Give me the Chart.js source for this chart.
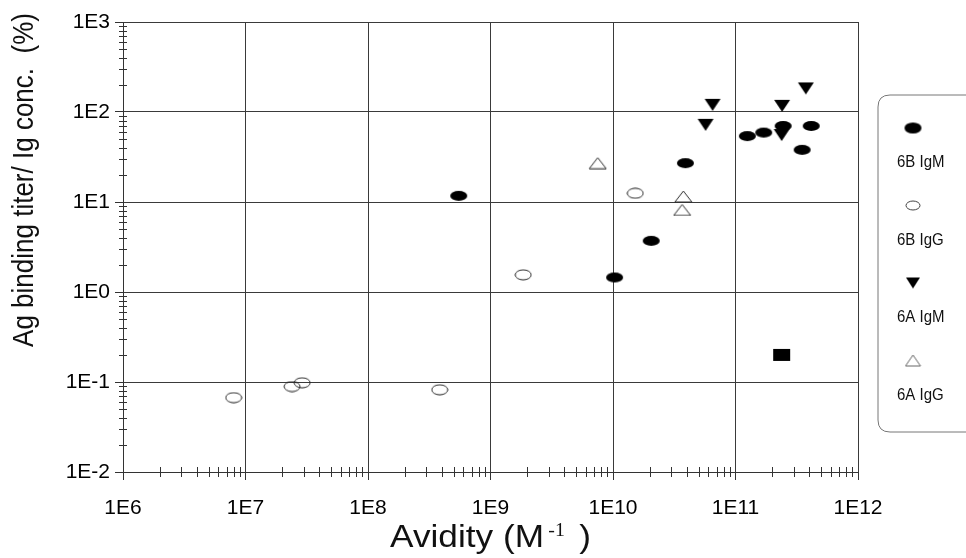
<!DOCTYPE HTML><html>
<head>
  <meta name="viewport" content="width=device-width, initial-scale=1">
  <script src="https://cdn.jsdelivr.net/npm/chart.js"></script>
  <style>
    html, body { margin: 0; padding: 0; background: #fff; }
    #wrap { width: 966px; height: 558px; }
  </style>
</head>
<body>
  <div id="wrap"><canvas id="avidityChart" width="966" height="558"></canvas></div>
<script>
  // values (x = avidity M^-1, y = titer / Ig conc. %)
  const igm6bX = [5.5e8, 1.03e10, 2.05e10, 3.9e10, 1.25e11, 1.7e11, 2.45e11, 4.15e11, 3.5e11];
  const igm6bY = [11.7, 1.45, 3.7, 27, 54, 59, 70, 70, 38];
  const igg6bX = [8.0e6, 2.4e7, 2.9e7, 3.85e8, 1.85e9, 1.52e10];
  const igg6bY = [0.067, 0.089, 0.098, 0.082, 1.55, 12.5];
  const igm6aX = [6.5e10, 5.7e10, 2.4e11, 3.75e11, 2.38e11];
  const igm6aY = [120, 72, 117, 183, 55.5];
  const igg6aX = [7.5e9, 3.75e10, 3.67e10];
  const igg6aY = [27, 11.5, 8.15];
  const otherX = [2.38e11];
  const otherY = [0.2];
  const seriesNames = ['6B IgM', '6B IgG', '6A IgM', '6A IgG'];
  const xRange = [1e6, 1e12];
  const yRange = [1e-2, 1e3];

  const ink = '#111';
  const gridInk = '#3a3a3a';

  function toPoints(xs, ys) {
    return xs.map((x, i) => ({ x: x, y: ys[i] }));
  }

  // little canvases used as point styles
  function marker(kind, w, h, stroke) {
    const c = document.createElement('canvas');
    c.width = w + 2; c.height = h + 2;
    const g = c.getContext('2d');
    const cx = c.width / 2, cy = c.height / 2;
    g.beginPath();
    if (kind === 'ellipse' || kind === 'openEllipse') {
      g.ellipse(cx, cy, w / 2, h / 2, 0, 0, Math.PI * 2);
    } else if (kind === 'down') {
      g.moveTo(1, 1); g.lineTo(w + 1, 1); g.lineTo(cx, h + 1); g.closePath();
    } else if (kind === 'openUp') {
      g.moveTo(cx, 1); g.lineTo(w + 1, h + 1); g.lineTo(1, h + 1); g.closePath();
    } else if (kind === 'square') {
      g.rect(1, 1, w, h);
    }
    if (kind.startsWith('open')) {
      g.strokeStyle = stroke || '#2a2a2a'; g.lineWidth = 1; g.stroke();
    } else {
      g.fillStyle = '#000'; g.fill();
    }
    return c;
  }

  const styles = [
    marker('ellipse', 17, 10),
    marker('openEllipse', 16, 10),
    marker('down', 16, 12),
    marker('openUp', 17, 11)
  ];
  const legendStyles = [
    marker('ellipse', 17, 11),
    marker('openEllipse', 14, 9, '#444'),
    marker('down', 14, 11),
    marker('openUp', 15, 11, '#666')
  ];
  const squareStyle = marker('square', 17, 12);

  function isDecade(v) {
    const l = Math.log10(v);
    return Math.abs(l - Math.round(l)) < 1e-6;
  }

  const minorTicks = {
    id: 'minorTicks',
    afterDraw(chart) {
      const ctx = chart.ctx;
      const xs = chart.scales.x, ys = chart.scales.y;
      ctx.save();
      ctx.strokeStyle = '#333';
      ctx.lineWidth = 1;
      ctx.beginPath();
      for (let e = Math.round(Math.log10(xs.min)); e < Math.round(Math.log10(xs.max)); e++) {
        for (let m = 2; m <= 9; m++) {
          const px = Math.round(xs.getPixelForValue(m * Math.pow(10, e))) + 0.5;
          ctx.moveTo(px, ys.bottom - 5); ctx.lineTo(px, ys.bottom + 5);
        }
      }
      for (let e = Math.round(Math.log10(ys.min)); e < Math.round(Math.log10(ys.max)); e++) {
        for (let m = 2; m <= 9; m++) {
          const py = Math.round(ys.getPixelForValue(m * Math.pow(10, e))) + 0.5;
          ctx.moveTo(xs.left - 4, py); ctx.lineTo(xs.left + 4, py);
        }
      }
      ctx.stroke();
      ctx.restore();
    }
  };

  const titlesAndLegend = {
    id: 'titlesAndLegend',
    afterDraw(chart) {
      const ctx = chart.ctx;
      const area = chart.chartArea;
      ctx.save();
      ctx.fillStyle = ink;

      // y axis title
      ctx.save();
      ctx.translate(25, area.top + 158);
      ctx.rotate(-Math.PI / 2);
      ctx.scale(1, 1.15);
      ctx.font = '26px "Liberation Sans", Arial, sans-serif';
      ctx.textAlign = 'center';
      ctx.textBaseline = 'middle';
      ctx.fillText('Ag binding titer/ Ig conc.  (%)', 0, 0);
      ctx.restore();

      // x axis title with superscript
      ctx.save();
      const cx = (area.left + area.right) / 2;
      const base = area.bottom + 75;
      ctx.translate(cx, base);
      ctx.scale(1.1, 1);
      ctx.textBaseline = 'alphabetic';
      ctx.textAlign = 'left';
      const bigFont = '32px "Liberation Sans", Arial, sans-serif';
      const supFont = '18px "Liberation Serif", "Times New Roman", serif';
      ctx.font = bigFont;
      const a = 'Avidity (M', c = ')';
      const wa = ctx.measureText(a).width;
      const wc = ctx.measureText(c).width;
      ctx.font = supFont;
      const wb = ctx.measureText('-1').width;
      const total = wa + 4 + wb + 13 + wc;
      const x0 = -total / 2;
      ctx.font = bigFont;
      ctx.fillText(a, x0, 0);
      ctx.font = supFont;
      ctx.fillText('-1', x0 + wa + 4, -11);
      ctx.font = bigFont;
      ctx.fillText(c, x0 + wa + 4 + wb + 13, 0);
      ctx.restore();

      // legend box
      const bx = area.right + 20, by = area.top + 73, bw = 130, bh = 337, r = 12;
      ctx.beginPath();
      ctx.moveTo(bx + bw, by);
      ctx.lineTo(bx + r, by);
      ctx.quadraticCurveTo(bx, by, bx, by + r);
      ctx.lineTo(bx, by + bh - r);
      ctx.quadraticCurveTo(bx, by + bh, bx + r, by + bh);
      ctx.lineTo(bx + bw, by + bh);
      ctx.strokeStyle = '#777';
      ctx.lineWidth = 1;
      ctx.stroke();

      ctx.font = '15px "Liberation Sans", Arial, sans-serif';
      ctx.textAlign = 'left';
      ctx.textBaseline = 'alphabetic';
      seriesNames.forEach((name, i) => {
        const top = by + 33 + i * 77.5;
        const img = legendStyles[i];
        ctx.drawImage(img, bx + 35 - img.width / 2, top - img.height / 2);
        ctx.save();
        ctx.translate(bx + 19, top + 39);
        ctx.scale(1, 1.15);
        ctx.fillText(name, 0, 0);
        ctx.restore();
      });
      ctx.restore();
    }
  };

  const axisCommon = {
    type: 'logarithmic',
    border: { display: true, color: '#333', width: 1 },
    grid: {
      color: (c) => (c.tick && isDecade(c.tick.value)) ? gridInk : 'rgba(0,0,0,0)',
      tickColor: (c) => (c.tick && isDecade(c.tick.value)) ? '#333' : 'rgba(0,0,0,0)',
      lineWidth: 1,
      tickLength: 8,
      drawTicks: true
    },
    ticks: {
      autoSkip: false,
      maxRotation: 0,
      color: '#000',
      font: { family: '"Liberation Sans", Arial, sans-serif', size: 21 },
      callback: (v) => isDecade(v) ? '1E' + Math.round(Math.log10(v)) : ''
    }
  };

  const ctx = document.getElementById('avidityChart').getContext('2d');
  const avidityChart = new Chart(ctx, {
    type: 'scatter',
    data: {
      datasets: [
        { label: seriesNames[0], data: toPoints(igm6bX, igm6bY), pointStyle: styles[0] },
        { label: seriesNames[1], data: toPoints(igg6bX, igg6bY), pointStyle: styles[1] },
        { label: seriesNames[2], data: toPoints(igm6aX, igm6aY), pointStyle: styles[2] },
        { label: seriesNames[3], data: toPoints(igg6aX, igg6aY), pointStyle: styles[3] },
        { label: '', data: toPoints(otherX, otherY), pointStyle: squareStyle }
      ]
    },
    options: {
      responsive: false,
      animation: false,
      events: [],
      layout: { padding: { left: 0, top: 22, right: 108, bottom: 0 } },
      plugins: { legend: { display: false }, tooltip: { enabled: false } },
      scales: {
        x: Object.assign({}, axisCommon, {
          min: xRange[0], max: xRange[1],
          ticks: Object.assign({}, axisCommon.ticks, { padding: 16 }),
          afterFit: (s) => { s.height = 86; }
        }),
        y: Object.assign({}, axisCommon, {
          min: yRange[0], max: yRange[1],
          ticks: Object.assign({}, axisCommon.ticks, { padding: 5 }),
          afterFit: (s) => { s.width = 123; }
        })
      }
    },
    plugins: [minorTicks, titlesAndLegend]
  });
</script>
</body>
</html>
